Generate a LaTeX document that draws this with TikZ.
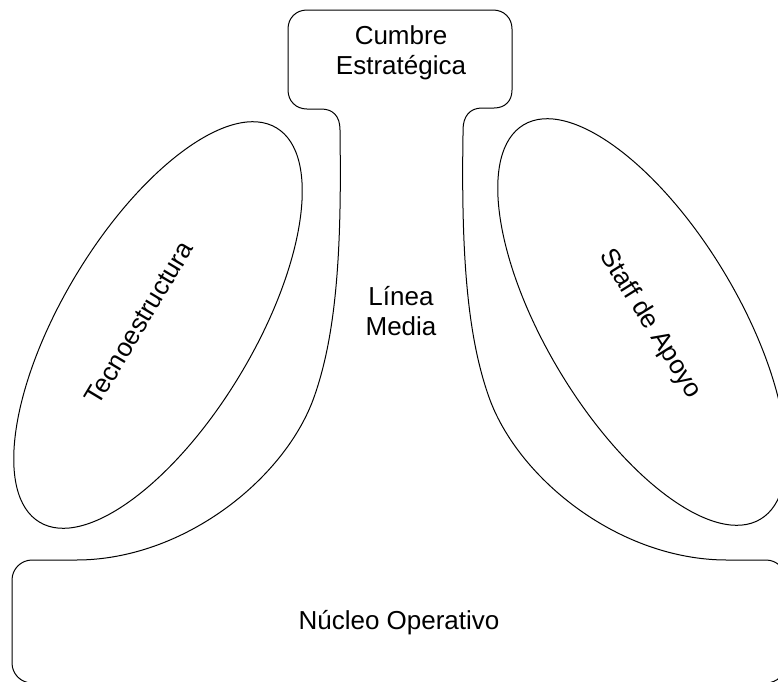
\documentclass[tikz,border=0pt]{standalone}
\usepackage{fontspec}
\setmainfont{Liberation Sans}
\begin{document}
\begin{tikzpicture}[x=1pt,y=-1pt,
  outline/.style={draw=black, line width=1pt, line join=round},
  txt/.style={font=\fontsize{26}{30}\selectfont, inner sep=0pt, align=center}]
\useasboundingbox (0,0) rectangle (778,681);
\clip (0,0) rectangle (778,681);

% outer contour: strategic apex, middle line and operating core in one shape
\draw[outline]
  (307,10) -- (493,10)
  .. controls (504,10) and (512,18) .. (512,29) -- (512,90)
  .. controls (512,101) and (505,108) .. (494,108) -- (482,108)
  .. controls (470,108) and (463,116) .. (463,130) -- (463,135)
  .. controls (461,260) and (468,340) .. (490,400)
  .. controls (520,480) and (620,560) .. (727,560) -- (766,560)
  .. controls (777,560) and (786,569) .. (786,580) -- (786,663)
  .. controls (786,674) and (777,683) .. (766,683) -- (32,683)
  .. controls (21,683) and (12,674) .. (12,663) -- (12,580)
  .. controls (12,569) and (21,560) .. (32,560) -- (76,560)
  .. controls (183,560) and (283,480) .. (313,400)
  .. controls (335,340) and (342,260) .. (340,135) -- (340,130)
  .. controls (340,116) and (333,109) .. (321,109) -- (307,109)
  .. controls (296,109) and (288,101) .. (288,90) -- (288,29)
  .. controls (288,18) and (296,10) .. (307,10) -- cycle;

% technostructure and support staff
\draw[outline, rotate around={59:(158,325)}] (158,325) ellipse [x radius=230, y radius=96];
\draw[outline, rotate around={-59:(642,322)}] (642,322) ellipse [x radius=230, y radius=96];

\node[txt] (cumbre) at (401,53) {Cumbre\\Estratégica};
\node[txt] (linea) at (401,311) {Línea\\Media};
\node[txt, rotate=59] (tecno) at (139,323) {Tecnoestructura};
\node[txt, rotate=-58] (staff) at (650,324) {Staff de Apoyo};
\node[txt, anchor=base] (nucleo) at (399,629) {Núcleo Operativo};
\end{tikzpicture}
\end{document}
